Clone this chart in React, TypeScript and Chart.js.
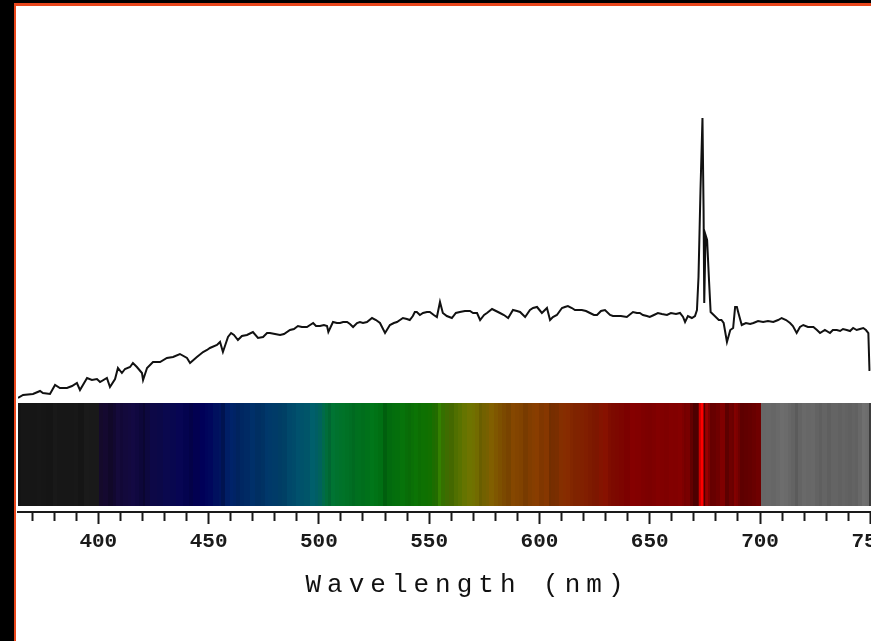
import React, { useEffect, useRef } from "react";
import { Chart, registerables } from "chart.js";

Chart.register(...registerables);

// ---------- data ----------
const WAVELENGTH_NM = [
  363.6, 365.9, 370.4, 373.6, 374.9, 378.1, 380.4, 382.6, 385.8, 388.1,
  390.3, 391.7, 394.9, 397.1, 399.4, 400.8, 403.9, 405.3, 407.6, 408.9,
  410.7, 412.1, 414.4, 415.7, 417.5, 419.8, 420.3, 422.1, 424.8, 428.0,
  431.1, 433.9, 437.0, 440.2, 441.6, 444.7, 447.5, 449.3, 450.6, 453.8,
  455.2, 456.5, 458.8, 460.2, 461.5, 463.3, 465.1, 467.4, 470.1, 472.4,
  474.7, 476.5, 477.8, 480.1, 482.4, 484.2, 486.9, 488.7, 490.5, 492.3,
  494.6, 497.4, 498.7, 500.5, 502.3, 503.7, 504.3, 506.4, 508.2, 509.6,
  511.0, 512.8, 514.1, 515.5, 517.3, 518.6, 520.0, 521.8, 524.1, 525.9,
  527.7, 530.0, 532.2, 534.0, 535.4, 538.1, 539.9, 541.2, 542.6, 543.5,
  544.4, 545.8, 547.2, 549.0, 550.3, 552.1, 553.5, 554.9, 556.2, 558.0,
  560.3, 562.1, 563.9, 566.2, 568.5, 569.9, 571.7, 573.1, 574.9, 576.2,
  578.5, 580.3, 582.1, 583.9, 585.8, 588.0, 589.8, 591.2, 593.5, 595.7,
  597.1, 598.9, 601.1, 603.4, 604.8, 606.1, 607.9, 610.2, 611.5, 612.9,
  614.7, 616.1, 617.4, 619.2, 621.1, 622.9, 624.7, 626.1, 627.9, 629.7,
  632.0, 633.3, 635.1, 636.9, 639.6, 642.4, 644.2, 645.5, 646.9, 648.7,
  650.0, 651.9, 653.7, 655.5, 657.8, 659.6, 661.9, 663.7, 665.1, 666.0,
  667.3, 669.1, 670.5, 671.4, 672.1, 673.0, 673.9, 674.4, 674.7, 675.3,
  676.0, 676.9, 677.6, 679.0, 681.3, 682.5, 683.5, 685.0, 686.5, 687.8,
  688.7, 689.5, 690.2, 691.7, 693.6, 695.5, 697.0, 699.1, 701.4, 703.6,
  706.0, 708.2, 709.8, 711.8, 713.6, 714.9, 716.6, 718.1, 719.6, 721.7,
  724.2, 725.8, 727.2, 729.4, 731.7, 733.0, 734.8, 736.3, 737.6, 739.3,
  740.8, 742.2, 743.8, 745.3, 746.8, 748.0, 749.1, 749.6, 750.0,
];

const INTENSITY = [
  114, 117, 118, 121, 119, 118, 127, 124, 124, 126,
  129, 122, 134, 132, 133, 130, 134, 125, 133, 144,
  139, 143, 145, 149, 145, 139, 132, 144, 150, 150,
  154, 155, 158, 154, 149, 155, 160, 162, 164, 167,
  170, 160, 175, 179, 177, 172, 176, 177, 180, 174,
  175, 179, 179, 178, 177, 178, 182, 183, 186, 185,
  185, 189, 186, 186, 187, 186, 180, 190, 189, 189,
  190, 190, 188, 185, 189, 190, 189, 190, 194, 192,
  189, 179, 187, 189, 190, 194, 193, 192, 196, 200,
  200, 197, 199, 200, 200, 197, 195, 210, 199, 196,
  194, 199, 200, 201, 201, 199, 199, 192, 197, 199,
  203, 201, 199, 197, 194, 202, 201, 200, 195, 202,
  204, 205, 199, 204, 192, 195, 197, 204, 205, 206,
  204, 202, 202, 202, 201, 199, 197, 197, 201, 202,
  197, 196, 196, 196, 195, 200, 199, 199, 197, 196,
  195, 197, 199, 198, 197, 199, 198, 199, 195, 190,
  196, 194, 196, 202, 235, 322, 394, 302, 209, 277,
  272, 230, 200, 197, 192, 192, 189, 170, 182, 184,
  205, 205, 199, 187, 189, 188, 189, 191, 190, 191,
  190, 192, 194, 192, 189, 186, 179, 185, 187, 185,
  185, 182, 179, 182, 179, 182, 182, 181, 183, 182,
  181, 184, 182, 183, 184, 182, 179, 142, 142,
];

const TICK_VALUES = [
  370, 380, 390, 400, 410, 420, 430, 440, 450, 460, 470, 480, 490, 500,
  510, 520, 530, 540, 550, 560, 570, 580, 590, 600, 610, 620, 630, 640,
  650, 660, 670, 680, 690, 700, 710, 720, 730, 740, 750,
];
const LABELED_TICKS = [400, 450, 500, 550, 600, 650, 700, 750];
const X_MIN = 363.6;
const X_MAX = 750.3;
const Y_MAX = 506;
const AXIS_TITLE = "Wavelength (nm)";

// ---------- style: colour of the spectrum strip by wavelength ----------
const BAND_STOPS: [number, [number, number, number]][] = [
  [363, [22, 22, 22]],
  [399.9, [24, 24, 24]],
  [400, [22, 10, 44]],
  [413, [18, 8, 58]],
  [430, [10, 8, 72]],
  [448, [0, 0, 88]],
  [460, [0, 32, 96]],
  [478, [0, 56, 104]],
  [496, [0, 88, 106]],
  [500, [0, 96, 96]],
  [504, [0, 112, 56]],
  [510, [0, 112, 40]],
  [530, [0, 110, 16]],
  [550, [16, 112, 0]],
  [558, [64, 112, 0]],
  [570, [112, 112, 0]],
  [585, [128, 72, 0]],
  [608, [128, 48, 0]],
  [625, [128, 24, 0]],
  [640, [128, 0, 0]],
  [686, [128, 0, 0]],
  [690, [100, 0, 0]],
  [699.9, [110, 0, 0]],
  [700, [104, 104, 104]],
  [751, [96, 96, 96]],
];

function baseColor(nm: number): [number, number, number] {
  if (nm <= BAND_STOPS[0][0]) return BAND_STOPS[0][1];
  for (let i = 1; i < BAND_STOPS.length; i++) {
    const [w1, c1] = BAND_STOPS[i];
    const [w0, c0] = BAND_STOPS[i - 1];
    if (nm <= w1) {
      const t = (nm - w0) / (w1 - w0);
      return [0, 1, 2].map((k) => c0[k] + (c1[k] - c0[k]) * t) as [number, number, number];
    }
  }
  return BAND_STOPS[BAND_STOPS.length - 1][1];
}

const spectrumBand = {
  id: "spectrumBand",
  beforeDatasetsDraw(chart: any) {
    const { ctx, chartArea } = chart;
    const xs = chart.scales.x;
    const top = chartArea.bottom - 109;
    const bottom = chartArea.bottom - 6;
    const n = WAVELENGTH_NM.length;
    ctx.save();
    for (let i = 0; i < n; i++) {
      const w = WAVELENGTH_NM[i];
      const left = i === 0 ? chartArea.left : Math.round(xs.getPixelForValue((WAVELENGTH_NM[i - 1] + w) / 2));
      const right = i === n - 1 ? chartArea.right : Math.round(xs.getPixelForValue((w + WAVELENGTH_NM[i + 1]) / 2));
      let sum = 0;
      let cnt = 0;
      for (let k = Math.max(0, i - 4); k <= Math.min(n - 1, i + 4); k++) {
        sum += INTENSITY[k];
        cnt++;
      }
      const f = INTENSITY[i] / (sum / cnt);
      const g = Math.max(0.6, Math.min(2.6, 1 + (f - 1) * 2.5));
      const c = baseColor(w).map((v) => Math.max(0, Math.min(255, Math.round(v * g))));
      ctx.fillStyle = `rgb(${c[0]},${c[1]},${c[2]})`;
      ctx.fillRect(left, top, Math.max(1, right - left), bottom - top);
    }
    ctx.restore();
  },
};

const axisTitle = {
  id: "axisTitle",
  afterDraw(chart: any) {
    const { ctx, chartArea } = chart;
    ctx.save();
    const spacing = 6;
    ctx.font = '26px "Liberation Mono", "DejaVu Sans Mono", monospace';
    (ctx as any).letterSpacing = spacing + "px";
    ctx.fillStyle = "#111";
    ctx.textBaseline = "middle";
    ctx.textAlign = "left";
    const w = ctx.measureText(AXIS_TITLE).width - spacing;
    const cx = (chartArea.left + chartArea.right) / 2 + 20;
    ctx.fillText(AXIS_TITLE, cx - w / 2, chartArea.bottom + 73);
    ctx.restore();
  },
};

export default function App() {
  const ref = useRef<HTMLCanvasElement>(null);

  useEffect(() => {
    const canvas = ref.current;
    if (!canvas) return;
    const chart = new Chart(canvas, {
      type: "line",
      data: {
        datasets: [
          {
            data: WAVELENGTH_NM.map((w, i) => ({ x: w, y: INTENSITY[i] })),
            borderColor: "#111",
            borderWidth: 2,
            pointRadius: 0,
            tension: 0,
            fill: false,
          },
        ],
      },
      options: {
        animation: false,
        responsive: false,
        devicePixelRatio: 1,
        layout: { padding: { left: 2, right: 0, top: 0, bottom: 0 } },
        plugins: { legend: { display: false }, tooltip: { enabled: false }, title: { display: false } },
        scales: {
          x: {
            type: "linear",
            min: X_MIN,
            max: X_MAX,
            afterBuildTicks: (s: any) => {
              s.ticks = TICK_VALUES.map((v) => ({ value: v }));
            },
            afterFit: (s: any) => {
              s.height = 129;
              s.paddingLeft = 0;
              s.paddingRight = 0;
            },
            ticks: {
              autoSkip: false,
              maxRotation: 0,
              minRotation: 0,
              padding: 5,
              color: "#1a1a1a",
              font: { family: '"Liberation Mono", "DejaVu Sans Mono", monospace', size: 21, weight: "bold" },
              callback: (v: any) => (LABELED_TICKS.includes(Number(v)) ? String(v) : ""),
            },
            grid: {
              drawOnChartArea: false,
              drawTicks: true,
              tickLength: 12,
              tickWidth: 2,
              tickColor: "#1a1a1a",
              tickBorderDash: (c: any) =>
                c.tick && LABELED_TICKS.includes(c.tick.value) ? [] : [8, 40],
            },
            border: { display: true, color: "#1a1a1a", width: 2 },
          },
          y: { display: false, min: 0, max: Y_MAX },
        },
      } as any,
      plugins: [spectrumBand, axisTitle],
    });
    return () => chart.destroy();
  }, []);

  return (
    <div
      style={{
        position: "absolute",
        left: 0,
        top: 0,
        width: 871,
        height: 641,
        background: "#000",
        overflow: "hidden",
      }}
    >
      <div
        style={{
          position: "absolute",
          left: 14,
          top: 3,
          right: 0,
          bottom: 0,
          borderLeft: "2px solid #e8461c",
          borderTop: "3px solid #e8461c",
          background: "#fff",
        }}
      >
        <canvas ref={ref} width={855} height={635} style={{ display: "block" }} />
      </div>
    </div>
  );
}
